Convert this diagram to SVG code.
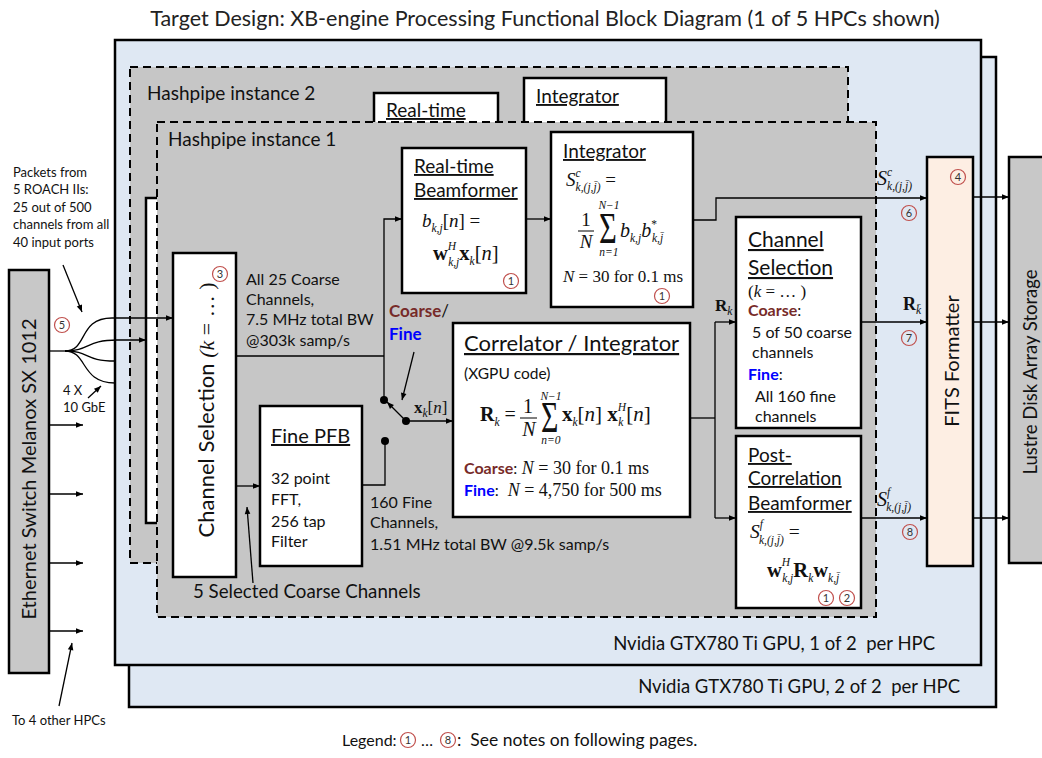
<svg xmlns="http://www.w3.org/2000/svg" width="1042" height="758" viewBox="0 0 1042 758">
<defs>
<marker id="ah" viewBox="0 0 10 10" refX="10" refY="5" markerWidth="9" markerHeight="7" markerUnits="userSpaceOnUse" orient="auto"><path d="M0,1 L10,5 L0,9 z" fill="#000"/></marker>
</defs>
<style>
text{font-family:Lato,"Liberation Sans",sans-serif;fill:#111}
.m{font-family:"Liberation Serif",serif;font-size:18px}
.i{font-style:italic}
.b{font-weight:bold}
.s{font-size:11.5px}
.u{text-decoration:underline}
.pre{white-space:pre}
.red{fill:#772b29;font-weight:bold;font-family:Lato,"Liberation Sans",sans-serif;font-style:normal}
.blue{fill:#0000ff;font-weight:bold;font-family:Lato,"Liberation Sans",sans-serif;font-style:normal}
.sans{font-family:Lato,"Liberation Sans",sans-serif;font-style:normal}
.box{fill:#fff;stroke:#000;stroke-width:2.5}
.gpu{fill:#dfe8f3;stroke:#000;stroke-width:2.5}
.gray{fill:#c8c8c8;stroke:#000;stroke-width:2.5}
.hp{fill:#c6c6c6;stroke:#000;stroke-width:2;stroke-dasharray:8 5}
.c{stroke:#000;stroke-width:1.3;fill:none}
.a{stroke:#000;stroke-width:1.3;fill:none;marker-end:url(#ah)}
.cc{fill:none;stroke:#c0504d;stroke-width:1.2}
.cn{font-size:11px;text-anchor:middle;fill:#333}
.t15{font-size:16px}
</style>

<text x="545" y="26" text-anchor="middle" style="font-size:21.5px;fill:#222">Target Design: XB-engine Processing Functional Block Diagram (1 of 5 HPCs shown)</text>

<g id="gpu2">
<rect class="gpu" x="129" y="57" width="867" height="650"/>
<text x="960" y="693" text-anchor="end" class="pre" style="font-size:18.5px">Nvidia GTX780 Ti GPU, 2 of 2  per HPC</text>
</g>
<g id="gpu1">
<rect class="gpu" x="115" y="40" width="866" height="625"/>
<text x="935" y="650" text-anchor="end" class="pre" style="font-size:18.5px">Nvidia GTX780 Ti GPU, 1 of 2  per HPC</text>
</g>

<g id="hashpipe2">
<rect class="hp" x="130" y="67" width="718" height="496"/>
<text x="147" y="100" style="font-size:19px">Hashpipe instance 2</text>
<rect class="box" x="146" y="198" width="40" height="325"/>
<rect class="box" x="374" y="93" width="124" height="50"/>
<text x="386" y="117" class="u" style="font-size:19px">Real-time</text>
<rect class="box" x="524" y="78" width="142" height="65"/>
<text x="536" y="103" class="u" style="font-size:19px">Integrator</text>
</g>

<g id="hashpipe1">
<rect class="hp" x="157" y="122" width="719" height="495"/>
<text x="168" y="146" style="font-size:19px">Hashpipe instance 1</text>
</g>

<g id="ethernet">
<rect class="gray" x="9" y="270" width="40" height="403"/>
<text transform="translate(36,469) rotate(-90)" text-anchor="middle" style="font-size:20px">Ethernet Switch Melanox SX 1012</text>
</g>

<g id="lustre">
<rect class="gray" x="1009" y="157" width="40" height="406"/>
<text transform="translate(1037,372) rotate(-90)" text-anchor="middle" style="font-size:18.5px">Lustre Disk Array Storage</text>
</g>

<g id="fits">
<rect x="927" y="157" width="46" height="409" fill="#fdeee3" stroke="#000" stroke-width="2.5"/>
<text transform="translate(959,361) rotate(-90)" text-anchor="middle" style="font-size:20px">FITS Formatter</text>
<circle class="cc" cx="958" cy="177" r="7.5"/><text class="cn" x="958" y="181">4</text>
</g>

<g id="chansel1">
<rect class="box" x="173" y="253" width="63" height="324"/>
<text transform="translate(214,410) rotate(-90)" text-anchor="middle" style="font-size:22px">Channel Selection  <tspan class="m i" style="font-size:22px">(</tspan><tspan class="m i" style="font-size:22px">k</tspan><tspan class="m" style="font-size:22px"> = … )</tspan></text>
<circle class="cc" cx="220" cy="274" r="7.5"/><text class="cn" x="220" y="278">3</text>
</g>

<g id="finepfb">
<rect class="box" x="260" y="406" width="102" height="160"/>
<text x="271" y="443" class="u" style="font-size:20px">Fine PFB</text>
<text x="271" y="484" class="t15">32 point</text>
<text x="271" y="505" class="t15">FFT,</text>
<text x="271" y="527" class="t15">256 tap</text>
<text x="271" y="547" class="t15">Filter</text>
</g>

<g id="beamformer">
<rect class="box" x="402" y="148" width="124" height="145"/>
<text x="414" y="173" class="u" style="font-size:19px">Real-time</text>
<text x="414" y="197" class="u" style="font-size:19px">Beamformer</text>
<text class="m" x="422" y="227" style="font-size:19px"><tspan class="i">b</tspan><tspan class="s i" dy="5">k,j</tspan><tspan dy="-5">[</tspan><tspan class="i">n</tspan>] =</text>
<text class="m" x="433" y="260" style="font-size:20.5px"><tspan class="b">w</tspan><tspan class="s i" dy="-10">H</tspan><tspan class="s i" dx="-8" dy="16">k,j</tspan><tspan class="b" dy="-6">x</tspan><tspan class="s i" dy="5">k</tspan><tspan dy="-5">[</tspan><tspan class="i">n</tspan>]</text>
<circle class="cc" cx="511" cy="281" r="7.5"/><text class="cn" x="511" y="285">1</text>
</g>

<g id="integrator">
<rect class="box" x="551" y="132" width="142" height="175"/>
<text x="563" y="158" class="u" style="font-size:19px">Integrator</text>
<text class="m" x="566" y="186" style="font-size:19px"><tspan class="i">S</tspan><tspan class="s i" dy="-9">c</tspan><tspan class="s i" dx="-5" dy="14">k,(j,j̄)</tspan><tspan dy="-5"> =</tspan></text>
<text class="m" x="586" y="226" text-anchor="middle" style="font-size:19px">1</text>
<line x1="578" y1="231" x2="594" y2="231" stroke="#000" stroke-width="1"/>
<text class="m i" x="586" y="248" text-anchor="middle" style="font-size:19px">N</text>
<text class="m" style="font-size:45px" transform="translate(599,243) scale(0.68,1)">Σ</text>
<text class="m i s" x="609" y="209" text-anchor="middle">N−1</text>
<text class="m i s" x="609" y="256" text-anchor="middle">n=1</text>
<text class="m" x="620" y="237" style="font-size:20px"><tspan class="i">b</tspan><tspan class="s i" dy="5">k,j</tspan><tspan class="i" dy="-5">b</tspan><tspan class="s" dy="-9">*</tspan><tspan class="s i" dx="-5" dy="14">k,j̄</tspan></text>
<text class="m" x="563" y="282" style="font-size:17px"><tspan class="i">N</tspan> = 30 for 0.1 ms</text>
<circle class="cc" cx="662" cy="296" r="7.5"/><text class="cn" x="662" y="300">1</text>
</g>

<g id="correlator">
<rect class="box" x="453" y="323" width="237" height="194"/>
<text x="464" y="351" class="u" style="font-size:22px">Correlator / Integrator</text>
<text x="464" y="379" style="font-size:15.5px">(XGPU code)</text>
<text class="m" x="480" y="421" style="font-size:20px"><tspan class="b">R</tspan><tspan class="s i" dy="5">k</tspan><tspan dy="-5"> =</tspan></text>
<text class="m" x="528" y="413" text-anchor="middle" style="font-size:20px">1</text>
<line x1="520" y1="418" x2="537" y2="418" stroke="#000" stroke-width="1"/>
<text class="m i" x="529" y="436" text-anchor="middle" style="font-size:20px">N</text>
<text class="m" style="font-size:44px" transform="translate(541,432) scale(0.68,1)">Σ</text>
<text class="m i s" x="551" y="400" text-anchor="middle">N−1</text>
<text class="m i s" x="551" y="444" text-anchor="middle">n=0</text>
<text class="m" x="562" y="421" style="font-size:21px"><tspan class="b">x</tspan><tspan class="s i" dy="5">k</tspan><tspan dy="-5">[</tspan><tspan class="i">n</tspan>] <tspan class="b">x</tspan><tspan class="s i" dy="-10">H</tspan><tspan class="s i" dx="-8" dy="15">k</tspan><tspan dx="3" dy="-5">[</tspan><tspan class="i">n</tspan>]</text>
<text x="464" y="474" class="m" style="font-size:18px"><tspan class="red" style="font-size:16px">Coarse</tspan><tspan class="sans" style="font-size:16px">:</tspan> <tspan class="i">N</tspan> = 30 for 0.1 ms</text>
<text x="464" y="496" class="m pre" style="font-size:18px"><tspan class="blue" style="font-size:16px">Fine</tspan><tspan class="sans" style="font-size:16px">:</tspan>  <tspan class="i">N</tspan> = 4,750 for 500 ms</text>
</g>

<g id="chansel2">
<rect class="box" x="736" y="217" width="125" height="211"/>
<text x="748" y="247" class="u" style="font-size:21px">Channel</text>
<text x="748" y="275" class="u" style="font-size:21px">Selection</text>
<text x="748" y="297" class="m" style="font-size:17px">(<tspan class="i">k</tspan> = … )</text>
<text x="748" y="316" style="font-size:16px"><tspan class="red">Coarse</tspan>:</text>
<text x="752" y="338" style="font-size:16px">5 of 50 coarse</text>
<text x="752" y="358" style="font-size:16px">channels</text>
<text x="748" y="380" style="font-size:16px"><tspan class="blue">Fine</tspan>:</text>
<text x="755" y="402" style="font-size:16px">All 160 fine</text>
<text x="755" y="422" style="font-size:16px">channels</text>
</g>

<g id="postcorr">
<rect class="box" x="736" y="436" width="125" height="172"/>
<text x="748" y="462" class="u" style="font-size:19px">Post-</text>
<text x="748" y="485" class="u" style="font-size:19px">Correlation</text>
<text x="748" y="510" class="u" style="font-size:19px">Beamformer</text>
<text class="m" x="750" y="538" style="font-size:19.5px"><tspan class="i">S</tspan><tspan class="s i" dy="-10">f</tspan><tspan class="s i" dx="-4" dy="16">k,(j,j̄)</tspan><tspan dy="-6"> =</tspan></text>
<text class="m" x="767" y="577" style="font-size:20.5px"><tspan class="b">w</tspan><tspan class="s i" dy="-11">H</tspan><tspan class="s i" dx="-8" dy="16">k,j</tspan><tspan class="b" dy="-5">R</tspan><tspan class="s i" dy="5">k</tspan><tspan class="b" dy="-5">w</tspan><tspan class="s i" dy="5">k,j̄</tspan></text>
<circle class="cc" cx="826" cy="598" r="7.5"/><text class="cn" x="826" y="602">1</text>
<circle class="cc" cx="847" cy="598" r="7.5"/><text class="cn" x="847" y="602">2</text>
</g>

<g id="connectors">
<path class="c" d="M49,351 L65,351"/>
<path class="a" d="M65,351 C88,351 78,318 112,318 L173,318"/>
<path class="a" d="M65,351 C90,351 86,340 117,340 L146,340"/>
<path class="c" d="M65,351 C90,351 84,361 115,361"/>
<path class="c" d="M65,351 C88,351 80,383 115,383"/>
<path class="a" d="M49,425 L83,425"/>
<path class="a" d="M49,494 L83,494"/>
<path class="a" d="M49,563 L83,563"/>
<path class="a" d="M49,631 L83,631"/>
<path class="a" d="M63,265 L82,312"/>
<path class="a" d="M88,398 L101,386"/>
<path class="a" d="M59,706 L72,643"/>
<path class="a" d="M253,583 L247,507"/>
<path class="a" d="M414,352 L402,400"/>
<path class="a" d="M236,486 L260,486"/>
<path class="c" d="M236,356 L384,356"/>
<path class="a" d="M384,400 L384,219 L402,219"/>
<path class="a" d="M526,219 L551,219"/>
<path class="a" d="M693,220 L716,220 L716,198 L927,198"/>
<path class="c" d="M362,485 L385,485 L385,441"/>
<circle cx="384" cy="400" r="4" fill="#000"/>
<circle cx="385" cy="441" r="4" fill="#000"/>
<circle cx="406" cy="421" r="4" fill="#000"/>
<path class="a" d="M406,421 L387,402"/>
<path class="a" d="M406,421 L453,421"/>
<path class="c" d="M690,418 L715,418"/>
<path class="c" d="M715,322 L715,518"/>
<path class="a" d="M715,322 L736,322"/>
<path class="a" d="M715,518 L736,518"/>
<path class="a" d="M861,322 L927,322"/>
<path class="a" d="M861,518 L927,518"/>
<path class="a" d="M973,197 L1009,197"/>
<path class="a" d="M973,322 L1009,322"/>
<path class="a" d="M973,518 L1009,518"/>
</g>

<g id="labels">
<text x="13" y="177" style="font-size:13px">Packets from</text>
<text x="13" y="194" style="font-size:13px">5 ROACH IIs:</text>
<text x="13" y="212" style="font-size:13px">25 out of 500</text>
<text x="13" y="229" style="font-size:13px">channels from all</text>
<text x="13" y="247" style="font-size:13px">40 input ports</text>
<circle class="cc" cx="62" cy="325" r="7.5"/><text class="cn" x="62" y="329">5</text>
<text x="63" y="395" style="font-size:13px">4 X</text>
<text x="63" y="412" style="font-size:13px">10 GbE</text>
<text x="12" y="725" style="font-size:13px">To 4 other HPCs</text>
<text x="246" y="285" class="t15">All 25 Coarse</text>
<text x="246" y="305" class="t15">Channels,</text>
<text x="246" y="325" class="t15">7.5 MHz total BW</text>
<text x="246" y="346" class="t15">@303k samp/s</text>
<text x="389" y="317" style="font-size:17px"><tspan class="red">Coarse</tspan>/</text>
<text x="389" y="340" style="font-size:17px" class="blue">Fine</text>
<text class="m" x="414" y="413" style="font-size:17px"><tspan class="b">x</tspan><tspan class="s i" dy="4">k</tspan><tspan dy="-4">[</tspan><tspan class="i">n</tspan>]</text>
<text x="370" y="508" class="t15">160 Fine</text>
<text x="370" y="528" class="t15">Channels,</text>
<text x="370" y="550" class="t15">1.51 MHz total BW @9.5k samp/s</text>
<text x="193" y="598" style="font-size:18.7px">5 Selected Coarse Channels</text>
<text class="m" x="715" y="311" style="font-size:17px"><tspan class="b">R</tspan><tspan class="s i" dy="4">k</tspan></text>
<text class="m" x="877" y="185" style="font-size:20px"><tspan class="i">S</tspan><tspan class="s i" dy="-9">c</tspan><tspan class="s i" dx="-5" dy="14">k,(j,j̄)</tspan></text>
<circle class="cc" cx="909" cy="213" r="7.5"/><text class="cn" x="909" y="217">6</text>
<text class="m" x="903" y="310" style="font-size:18px"><tspan class="b">R</tspan><tspan class="s i" dy="4">k̄</tspan></text>
<circle class="cc" cx="909" cy="338" r="7.5"/><text class="cn" x="909" y="342">7</text>
<text class="m" x="877" y="506" style="font-size:20px"><tspan class="i">S</tspan><tspan class="s i" dy="-10">f</tspan><tspan class="s i" dx="-4" dy="15">k,(j,j̄)</tspan></text>
<circle class="cc" cx="910" cy="532" r="7.5"/><text class="cn" x="910" y="536">8</text>
<text x="342" y="746" style="font-size:16px">Legend:</text>
<circle class="cc" cx="408" cy="740" r="7.5"/><text class="cn" x="408" y="744">1</text>
<text x="421" y="746" style="font-size:16px">…</text>
<circle class="cc" cx="448" cy="740" r="7.5"/><text class="cn" x="448" y="744">8</text>
<text x="457" y="746" class="pre" style="font-size:17.5px">:  See notes on following pages.</text>
</g>
</svg>
